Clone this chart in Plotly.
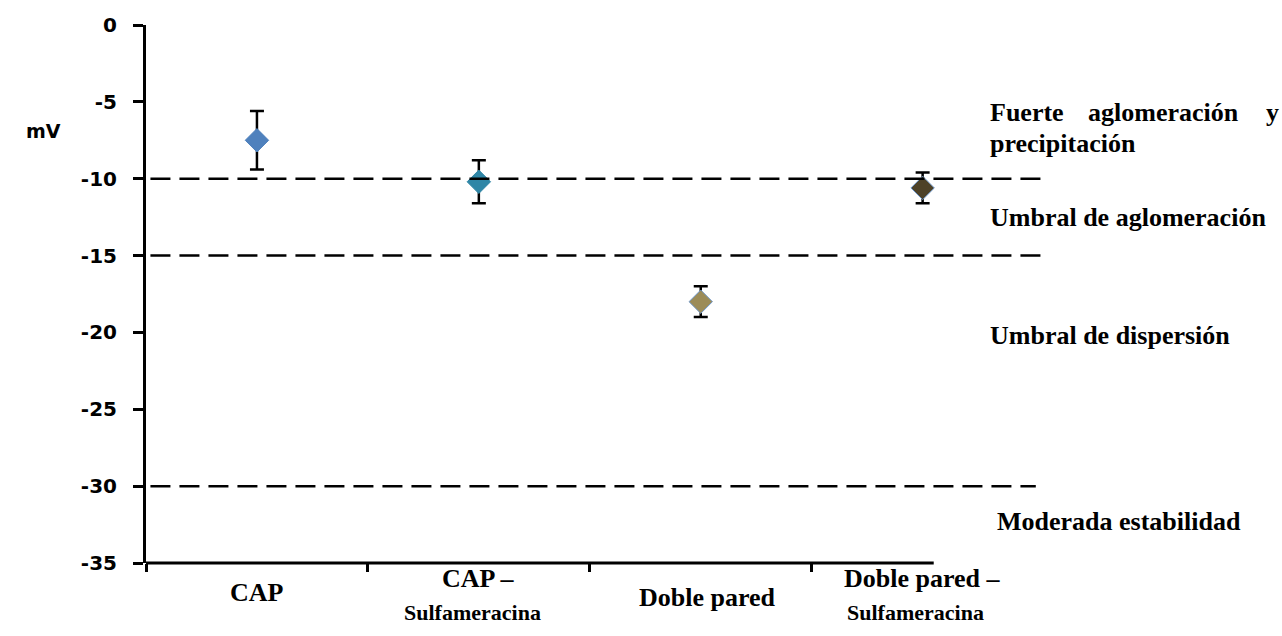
import plotly.graph_objects as go

# Zeta potential per formulation (mV) with standard deviation
categories = ["CAP", "CAP –", "Doble pared", "Doble pared –"]
category_sub = ["", "Sulfameracina", "", "Sulfameracina"]
zeta_mv = [-7.5, -10.2, -18.0, -10.6]
zeta_sd = [1.9, 1.4, 1.0, 1.0]
marker_fill = ["#4F81BD", "#2F86A6", "#9C8C58", "#4E4228"]
marker_edge = ["#4F81BD", "#2F86A6", "#6F97C8", "#6F97C8"]

# Stability thresholds (mV) and zone names
thresholds = [-10, -15, -30]
zone_top = ["Fuerte", "aglomeración", "y"]
zone_top_2 = "precipitación"
zone_names = ["Umbral de aglomeración", "Umbral de dispersión", "Moderada estabilidad"]

y_ticks = [0, -5, -10, -15, -20, -25, -30, -35]

W, H = 1282, 636
L, R, T, B = 146, 234, 25, 73
PLOT_W = W - L - R


def px_x(px):
    """Horizontal pixel position -> paper coordinate."""
    return (px - L) / PLOT_W


serif = "Liberation Serif, Times New Roman, serif"
sans = "DejaVu Sans, Verdana, sans-serif"

fig = go.Figure()

fig.add_trace(go.Scatter(
    x=list(range(len(categories))),
    y=zeta_mv,
    mode="markers",
    marker=dict(symbol="diamond", size=18, color=marker_fill,
                line=dict(color=marker_edge, width=1)),
    error_y=dict(type="data", array=zeta_sd, visible=True,
                 color="black", thickness=2.5, width=7),
    showlegend=False,
    hoverinfo="skip",
))

# Dashed threshold lines
line_ends = [3.565, 3.565, 3.51]
for thr, x1 in zip(thresholds, line_ends):
    fig.add_shape(type="line", xref="x", yref="y", x0=-0.48, x1=x1, y0=thr, y1=thr,
                  line=dict(color="black", width=2.5, dash="20px,9px"))

# Horizontal axis line (stops short of the plot edge)
fig.add_shape(type="line", xref="x", yref="paper", x0=-0.5, x1=3.05, y0=0, y1=0,
              line=dict(color="black", width=3))

ann = []
# Category labels under the axis
for i, (name, sub) in enumerate(zip(categories, category_sub)):
    if sub:
        ann.append(dict(x=i, y=0, xref="x", yref="paper", text=name, showarrow=False,
                        yanchor="middle", yshift=-15,
                        font=dict(family=serif, size=26, color="black", weight="bold")))
        ann.append(dict(x=i - 0.03, y=0, xref="x", yref="paper", text=sub, showarrow=False,
                        yanchor="middle", yshift=-49,
                        font=dict(family=serif, size=22, color="black", weight="bold")))
    else:
        ann.append(dict(x=i + (0.03 if i == 2 else 0), y=0, xref="x", yref="paper",
                        text=name, showarrow=False, yanchor="middle",
                        yshift=-29 if i == 0 else -34,
                        font=dict(family=serif, size=26, color="black", weight="bold")))

# Zone descriptions on the right
zfont = dict(family=serif, size=26, color="black", weight="bold")
for word, px in zip(zone_top, [988, 1086, 1264]):
    ann.append(dict(x=px_x(px), y=-5.7, xref="paper", yref="y", text=word, showarrow=False,
                    xanchor="left", yanchor="middle", font=zfont))
ann.append(dict(x=px_x(988), y=-7.7, xref="paper", yref="y", text=zone_top_2, showarrow=False,
                xanchor="left", yanchor="middle", font=zfont))
for name, yv, px in zip(zone_names, [-12.5, -20.2, -32.3], [988, 988, 995]):
    ann.append(dict(x=px_x(px), y=yv, xref="paper", yref="y", text=name, showarrow=False,
                    xanchor="left", yanchor="middle", font=zfont))

# Axis unit
ann.append(dict(x=px_x(43), y=-6.9, xref="paper", yref="y", text="mV", showarrow=False,
                xanchor="center", yanchor="middle",
                font=dict(family=sans, size=19, color="black", weight="bold")))

fig.update_layout(
    width=W, height=H,
    margin=dict(l=L, r=R, t=T, b=B),
    paper_bgcolor="white", plot_bgcolor="white",
    annotations=ann,
    xaxis=dict(range=[-0.5, 3.565], showgrid=False, zeroline=False, showline=False,
               tickvals=[-0.5, 0.5, 1.5, 2.5], ticktext=["", "", "", ""],
               ticks="outside", ticklen=8, tickwidth=3, tickcolor="black",
               fixedrange=True),
    yaxis=dict(range=[-35, 0], tickvals=y_ticks, ticktext=[str(v) for v in y_ticks],
               showgrid=False, zeroline=False, showline=True, linecolor="black",
               linewidth=3, ticks="outside", ticklen=10, tickwidth=3, tickcolor="black",
               ticklabelstandoff=12,
               tickfont=dict(family=sans, size=20, color="black", weight="bold"),
               fixedrange=True),
)

fig.write_html("out.html", config={"displayModeBar": False})
